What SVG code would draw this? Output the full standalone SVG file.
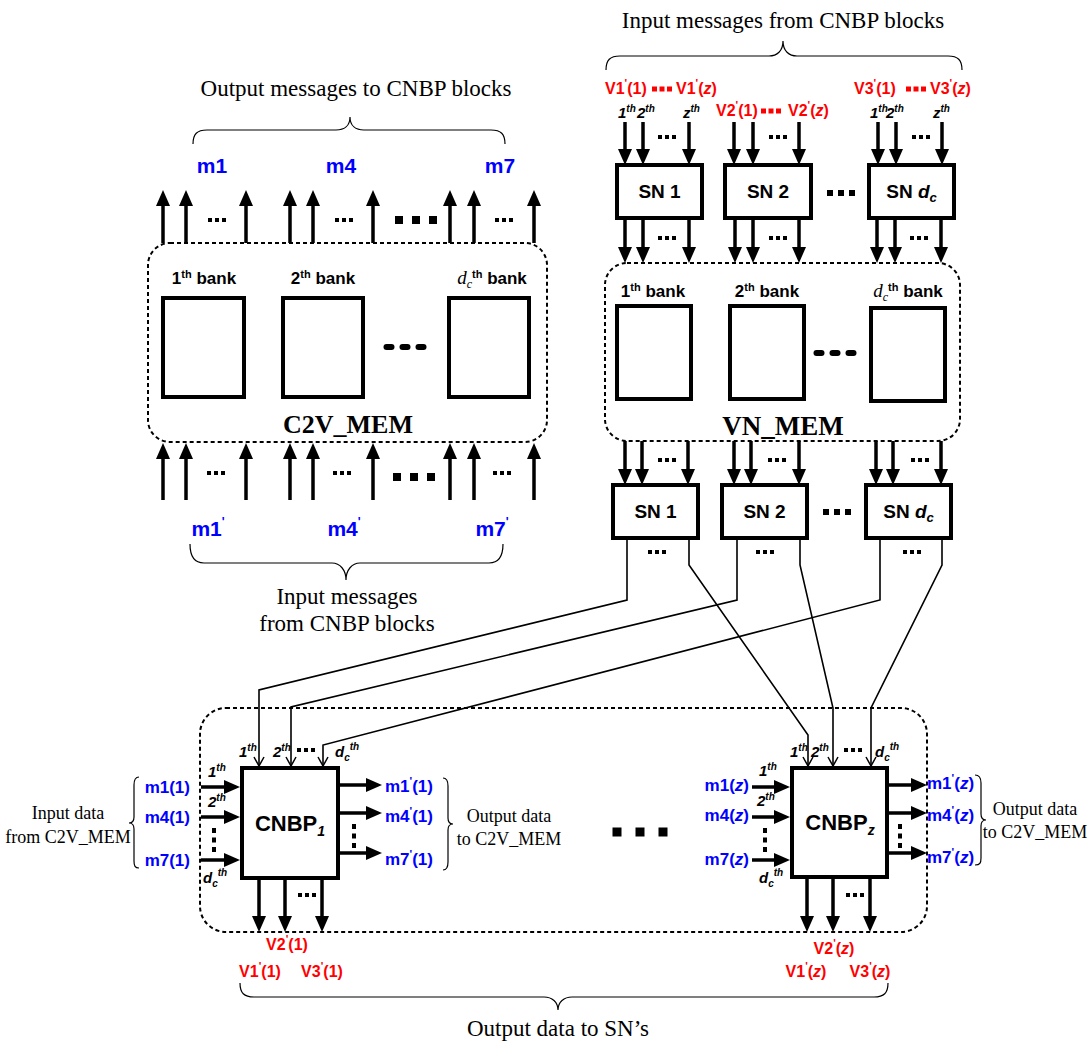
<svg xmlns="http://www.w3.org/2000/svg" width="1091" height="1045" viewBox="0 0 1091 1045">
<style>
.b{font-family:"Liberation Sans",Arial,sans-serif;font-weight:bold}
.it{font-style:italic}
.s{font-family:"Liberation Serif","Times New Roman",serif}
.blue{fill:#0000ff}
.red{fill:#ff0000}
.thick{stroke:#000;stroke-width:3.5;fill:none}
.thin{stroke:#000;stroke-width:1.6;fill:none}
.dash{stroke:#000;stroke-width:2;stroke-dasharray:4 3;fill:none}
.box{fill:#fff;stroke:#000;stroke-width:4}
.brace{stroke:#000;stroke-width:1.2;fill:none}
</style>
<defs>
  <marker id="ah" markerUnits="userSpaceOnUse" markerWidth="16" markerHeight="14" refX="8" refY="7" orient="auto" overflow="visible">
    <path d="M0,0 L16,7 L0,14 z" fill="#000"/>
  </marker>
  <marker id="av" markerUnits="userSpaceOnUse" markerWidth="9" markerHeight="10" refX="9" refY="5" orient="auto" overflow="visible">
    <path d="M0,0 L9,5 L0,10" fill="none" stroke="#000" stroke-width="1.5"/>
  </marker>
  <!-- small ellipsis squares -->
  <g id="d3"><rect x="-9" y="-2" width="4" height="4"/><rect x="-2" y="-2" width="4" height="4"/><rect x="5" y="-2" width="4" height="4"/></g>
  <!-- vertical ellipsis -->
  <g id="dv"><rect x="-2" y="-12" width="4" height="5"/><rect x="-2" y="-2.5" width="4" height="5"/><rect x="-2" y="7" width="4" height="5"/></g>
  <!-- large ellipsis squares -->
  <g id="bd"><rect x="-21" y="-4" width="8" height="8"/><rect x="-4" y="-4" width="8" height="8"/><rect x="13" y="-4" width="8" height="8"/></g>
  <!-- medium ellipsis squares -->
  <g id="sd"><rect x="-14" y="-3" width="6" height="6"/><rect x="-3" y="-3" width="6" height="6"/><rect x="8" y="-3" width="6" height="6"/></g>
  <!-- red ellipsis squares -->
  <g id="rd"><rect x="-10" y="-2.5" width="5" height="5"/><rect x="-2.5" y="-2.5" width="5" height="5"/><rect x="5" y="-2.5" width="5" height="5"/></g>
  <!-- extra large ellipsis squares -->
  <g id="xd"><rect x="-27.5" y="-4.5" width="9" height="9"/><rect x="-4.5" y="-4.5" width="9" height="9"/><rect x="18.5" y="-4.5" width="9" height="9"/></g>
  <!-- dash ellipsis between banks -->
  <g id="bars"><rect x="-21.5" y="-3" width="11" height="6" rx="3"/><rect x="-5.5" y="-3" width="11" height="6" rx="3"/><rect x="10.5" y="-3" width="11" height="6" rx="3"/></g>
</defs>

<rect width="1091" height="1045" fill="#fff"/>

<!-- ===== C2V memory ===== -->
<g id="c2v_mem">
  <rect class="dash" x="148" y="243" width="399" height="199" rx="22"/>
  <rect class="box" x="163" y="298" width="81" height="99"/>
  <rect class="box" x="283" y="298" width="80" height="99"/>
  <rect class="box" x="449" y="298" width="80" height="99"/>
  <text class="b" x="204" y="284" font-size="17" text-anchor="middle">1<tspan font-size="11" dy="-6">th</tspan><tspan dy="6"> bank</tspan></text>
  <text class="b" x="323" y="284" font-size="17" text-anchor="middle">2<tspan font-size="11" dy="-6">th</tspan><tspan dy="6"> bank</tspan></text>
  <text class="b" x="492" y="284" font-size="17" text-anchor="middle"><tspan class="s" font-style="italic" font-weight="normal" font-size="19">d</tspan><tspan class="s" font-style="italic" font-weight="normal" font-size="12" dy="4">c</tspan><tspan font-size="11" dy="-10">th</tspan><tspan dy="6"> bank</tspan></text>
  <use href="#bars" x="405" y="347"/>
  <text class="s" x="348" y="433" font-size="26" font-weight="bold" text-anchor="middle">C2V_MEM</text>
</g>

<!-- ===== VN memory ===== -->
<g id="vn_mem">
  <rect class="dash" x="605" y="263" width="355" height="178" rx="22"/>
  <rect class="box" x="617" y="306" width="74" height="93"/>
  <rect class="box" x="730" y="306" width="74" height="93"/>
  <rect class="box" x="871" y="308" width="74" height="93"/>
  <text class="b" x="653" y="297" font-size="17" text-anchor="middle">1<tspan font-size="11" dy="-6">th</tspan><tspan dy="6"> bank</tspan></text>
  <text class="b" x="767" y="297" font-size="17" text-anchor="middle">2<tspan font-size="11" dy="-6">th</tspan><tspan dy="6"> bank</tspan></text>
  <text class="b" x="908" y="297" font-size="17" text-anchor="middle"><tspan class="s" font-style="italic" font-weight="normal" font-size="19">d</tspan><tspan class="s" font-style="italic" font-weight="normal" font-size="12" dy="4">c</tspan><tspan font-size="11" dy="-10">th</tspan><tspan dy="6"> bank</tspan></text>
  <use href="#bars" x="835" y="353"/>
  <text class="s" x="783" y="435" font-size="27" font-weight="bold" text-anchor="middle">VN_MEM</text>
</g>

<!-- ===== shuffle networks, upper row ===== -->
<g id="sn_top_1">
  <rect class="box" x="617" y="165" width="85" height="53"/>
  <text class="b" x="659.5" y="198" font-size="19" text-anchor="middle">SN 1</text>
</g>
<g id="sn_top_2">
  <rect class="box" x="725" y="165" width="86" height="53"/>
  <text class="b" x="768" y="198" font-size="19" text-anchor="middle">SN 2</text>
</g>
<g id="sn_top_dc">
  <rect class="box" x="869" y="165" width="85" height="53"/>
  <text class="b" x="911.5" y="198" font-size="19" text-anchor="middle">SN <tspan class="it">d</tspan><tspan class="it" font-size="13" dy="4">c</tspan></text>
</g>
<use href="#sd" x="841" y="193"/>

<!-- ===== shuffle networks, lower row ===== -->
<g id="sn_bot_1">
  <rect class="box" x="613" y="485" width="85" height="53"/>
  <text class="b" x="655.5" y="518" font-size="19" text-anchor="middle">SN 1</text>
</g>
<g id="sn_bot_2">
  <rect class="box" x="722" y="485" width="85" height="53"/>
  <text class="b" x="764.5" y="518" font-size="19" text-anchor="middle">SN 2</text>
</g>
<g id="sn_bot_dc">
  <rect class="box" x="866" y="485" width="85" height="53"/>
  <text class="b" x="908.5" y="518" font-size="19" text-anchor="middle">SN <tspan class="it">d</tspan><tspan class="it" font-size="13" dy="4">c</tspan></text>
</g>
<use href="#sd" x="837" y="512"/>

<!-- ===== CNBP array container ===== -->
<g id="cnbp_array">
  <rect class="dash" x="200" y="708" width="727" height="224" rx="26"/>
  <use href="#xd" x="640" y="832"/>
</g>

<!-- ===== CNBP 1 ===== -->
<g id="cnbp_1">
  <rect class="box" x="242" y="768" width="96" height="110" stroke-width="4.5"/>
  <text class="b" x="290" y="831" font-size="22" text-anchor="middle">CNBP<tspan class="it" font-size="14" dy="5">1</tspan></text>
</g>

<!-- ===== CNBP z ===== -->
<g id="cnbp_z">
  <rect class="box" x="792" y="768" width="95" height="109" stroke-width="4.5"/>
  <text class="b" x="840" y="830" font-size="22" text-anchor="middle">CNBP<tspan class="it" font-size="14" dy="5">z</tspan></text>
</g>

<!-- ===== connectors ===== -->
<g id="connectors">
  <!-- C2V outputs (upward, top) -->
  <g class="thick" marker-end="url(#ah)">
    <line x1="163" y1="243" x2="163" y2="198"/><line x1="186" y1="243" x2="186" y2="198"/><line x1="246" y1="243" x2="246" y2="198"/>
    <line x1="290" y1="243" x2="290" y2="198"/><line x1="313" y1="243" x2="313" y2="198"/><line x1="373" y1="243" x2="373" y2="198"/>
    <line x1="450" y1="243" x2="450" y2="198"/><line x1="474" y1="243" x2="474" y2="198"/><line x1="534" y1="243" x2="534" y2="198"/>
  </g>
  <!-- C2V inputs (upward, bottom) -->
  <g class="thick" marker-end="url(#ah)">
    <line x1="163" y1="500" x2="163" y2="451"/><line x1="186" y1="500" x2="186" y2="451"/><line x1="246" y1="500" x2="246" y2="451"/>
    <line x1="290" y1="500" x2="290" y2="451"/><line x1="313" y1="500" x2="313" y2="451"/><line x1="373" y1="500" x2="373" y2="451"/>
    <line x1="450" y1="500" x2="450" y2="451"/><line x1="474" y1="500" x2="474" y2="451"/><line x1="534" y1="500" x2="534" y2="451"/>
  </g>
  <!-- inputs into upper SNs -->
  <g class="thick" marker-end="url(#ah)">
    <line x1="625" y1="122" x2="625" y2="157"/><line x1="643" y1="122" x2="643" y2="157"/><line x1="689" y1="122" x2="689" y2="157"/>
    <line x1="734" y1="122" x2="734" y2="157"/><line x1="753" y1="122" x2="753" y2="157"/><line x1="799" y1="122" x2="799" y2="157"/>
    <line x1="878" y1="122" x2="878" y2="157"/><line x1="896" y1="122" x2="896" y2="157"/><line x1="942" y1="122" x2="942" y2="157"/>
  </g>
  <!-- upper SNs into VN_MEM -->
  <g class="thick" marker-end="url(#ah)">
    <line x1="625" y1="220" x2="625" y2="255"/><line x1="643" y1="220" x2="643" y2="255"/><line x1="689" y1="220" x2="689" y2="255"/>
    <line x1="735" y1="220" x2="735" y2="255"/><line x1="753" y1="220" x2="753" y2="255"/><line x1="799" y1="220" x2="799" y2="255"/>
    <line x1="877" y1="220" x2="877" y2="255"/><line x1="895" y1="220" x2="895" y2="255"/><line x1="941" y1="220" x2="941" y2="255"/>
  </g>
  <!-- VN_MEM into lower SNs -->
  <g class="thick" marker-end="url(#ah)">
    <line x1="625" y1="441" x2="625" y2="477"/><line x1="642" y1="441" x2="642" y2="477"/><line x1="688" y1="441" x2="688" y2="477"/>
    <line x1="734" y1="441" x2="734" y2="477"/><line x1="751" y1="441" x2="751" y2="477"/><line x1="799" y1="441" x2="799" y2="477"/>
    <line x1="876" y1="441" x2="876" y2="477"/><line x1="893" y1="441" x2="893" y2="477"/><line x1="941" y1="441" x2="941" y2="477"/>
  </g>
  <!-- lower SNs routed to CNBPs -->
  <g class="thin" marker-end="url(#av)">
    <path d="M627,538 V600 L259,690 V766"/>
    <path d="M737,538 V600 L291,707 V766"/>
    <path d="M880,538 V600 L323,745 V766"/>
    <path d="M689,538 V565 L808,735 V766"/>
    <path d="M800,538 V565 L833,708 V766"/>
    <path d="M942,538 V565 L871,708 V766"/>
  </g>
  <!-- CNBP 1 ports -->
  <g class="thick" marker-end="url(#ah)">
    <line x1="201" y1="787" x2="232" y2="787"/><line x1="201" y1="817" x2="232" y2="817"/><line x1="201" y1="860" x2="232" y2="860"/>
    <line x1="340" y1="785" x2="374" y2="785"/><line x1="340" y1="813" x2="374" y2="813"/><line x1="340" y1="853" x2="374" y2="853"/>
    <line x1="259" y1="880" x2="259" y2="924"/><line x1="285" y1="880" x2="285" y2="924"/><line x1="322" y1="880" x2="322" y2="924"/>
  </g>
  <!-- CNBP z ports -->
  <g class="thick" marker-end="url(#ah)">
    <line x1="752" y1="787" x2="782" y2="787"/><line x1="752" y1="817" x2="782" y2="817"/><line x1="752" y1="860" x2="782" y2="860"/>
    <line x1="889" y1="785" x2="919" y2="785"/><line x1="889" y1="813" x2="919" y2="813"/><line x1="889" y1="853" x2="919" y2="853"/>
    <line x1="807" y1="879" x2="807" y2="924"/><line x1="833" y1="879" x2="833" y2="924"/><line x1="870" y1="879" x2="870" y2="924"/>
  </g>
</g>

<!-- ===== ellipses inside arrow groups ===== -->
<g id="ellipses">
  <use href="#d3" x="217" y="220"/><use href="#d3" x="344" y="220"/><use href="#d3" x="504" y="220"/>
  <use href="#bd" x="416" y="220"/>
  <use href="#d3" x="216" y="473"/><use href="#d3" x="342" y="473"/><use href="#d3" x="502" y="473"/>
  <use href="#bd" x="414" y="477"/>
  <use href="#d3" x="667" y="137"/><use href="#d3" x="778" y="137"/><use href="#d3" x="921" y="137"/>
  <use href="#d3" x="667" y="238"/><use href="#d3" x="778" y="238"/><use href="#d3" x="919" y="238"/>
  <use href="#d3" x="667" y="460"/><use href="#d3" x="777" y="460"/><use href="#d3" x="920" y="460"/>
  <use href="#d3" x="657" y="552"/><use href="#d3" x="765" y="552"/><use href="#d3" x="912" y="552"/>
  <use href="#d3" x="306" y="750"/><use href="#d3" x="853" y="750"/>
  <use href="#d3" x="307" y="895"/><use href="#d3" x="855" y="895"/>
  <use href="#dv" x="214" y="840"/><use href="#dv" x="354" y="836"/>
  <use href="#dv" x="765" y="840"/><use href="#dv" x="900" y="836"/>
</g>

<!-- ===== message labels, C2V side ===== -->
<g id="c2v_labels">
  <text class="s" x="356" y="96" font-size="23" text-anchor="middle">Output messages to CNBP blocks</text>
  <path class="brace" d="M193,144 C193,134 197,130 207,130 L336,130 C344,130 350,126 350,117 C350,126 356,130 364,130 L491,130 C501,130 505,134 505,144"/>
  <g class="b blue" font-size="21" text-anchor="middle">
    <text x="212" y="173">m1</text>
    <text x="341" y="173">m4</text>
    <text x="500" y="173">m7</text>
    <text x="208" y="536">m1<tspan font-size="12" dy="-10">'</tspan></text>
    <text x="344" y="536">m4<tspan font-size="12" dy="-10">'</tspan></text>
    <text x="492" y="536">m7<tspan font-size="12" dy="-10">'</tspan></text>
  </g>
  <path class="brace" d="M190,544 C190,556 194,563 204,563 L332,563 C340,563 346,570 346,580 C346,570 352,563 360,563 L489,563 C499,563 503,556 503,544"/>
  <text class="s" x="347" y="604" font-size="23" text-anchor="middle">Input messages</text>
  <text class="s" x="347" y="631" font-size="23" text-anchor="middle">from CNBP blocks</text>
</g>

<!-- ===== message labels, VN side ===== -->
<g id="vn_labels">
  <text class="s" x="783" y="28" font-size="23" text-anchor="middle">Input messages from CNBP blocks</text>
  <path class="brace" d="M606,70 C606,60 610,56 620,56 L769,56 C777,56 783,51 783,41 C783,51 789,56 797,56 L948,56 C958,56 962,60 962,70"/>
  <g class="b red" font-size="16">
    <text x="605" y="94">V1<tspan font-size="11" dy="-7">'</tspan><tspan dy="7">(1)</tspan></text>
    <text x="676" y="94">V1<tspan font-size="11" dy="-7">'</tspan><tspan dy="7">(<tspan class="it">z</tspan>)</tspan></text>
    <text x="716" y="116">V2<tspan font-size="11" dy="-7">'</tspan><tspan dy="7">(1)</tspan></text>
    <text x="788" y="116">V2<tspan font-size="11" dy="-7">'</tspan><tspan dy="7">(<tspan class="it">z</tspan>)</tspan></text>
    <text x="854" y="94">V3<tspan font-size="11" dy="-7">'</tspan><tspan dy="7">(1)</tspan></text>
    <text x="930" y="94">V3<tspan font-size="11" dy="-7">'</tspan><tspan dy="7">(<tspan class="it">z</tspan>)</tspan></text>
  </g>
  <g fill="#ff0000">
    <use href="#rd" x="662" y="89"/>
    <use href="#rd" x="771" y="111"/>
    <use href="#rd" x="916" y="89"/>
  </g>
  <g class="b it" font-size="15">
    <text x="618" y="118">1<tspan font-size="10" dy="-6">th</tspan></text>
    <text x="637" y="118">2<tspan font-size="10" dy="-6">th</tspan></text>
    <text x="683" y="118">z<tspan font-size="10" dy="-6">th</tspan></text>
    <text x="870" y="118">1<tspan font-size="10" dy="-6">th</tspan></text>
    <text x="886" y="118">2<tspan font-size="10" dy="-6">th</tspan></text>
    <text x="933" y="118">z<tspan font-size="10" dy="-6">th</tspan></text>
  </g>
</g>

<!-- ===== CNBP port labels ===== -->
<g id="cnbp_labels">
  <g class="b it" font-size="15">
    <text x="239" y="757">1<tspan font-size="10" dy="-6">th</tspan></text>
    <text x="273" y="757">2<tspan font-size="10" dy="-6">th</tspan></text>
    <text x="335" y="757">d<tspan font-size="10" dy="4">c</tspan><tspan font-size="10" dy="-11">th</tspan></text>
    <text x="208" y="777">1<tspan font-size="10" dy="-6">th</tspan></text>
    <text x="208" y="807">2<tspan font-size="10" dy="-6">th</tspan></text>
    <text x="203" y="883">d<tspan font-size="10" dy="4">c</tspan><tspan font-size="10" dy="-11">th</tspan></text>
    <text x="790" y="757">1<tspan font-size="10" dy="-6">th</tspan></text>
    <text x="811" y="757">2<tspan font-size="10" dy="-6">th</tspan></text>
    <text x="875" y="757">d<tspan font-size="10" dy="4">c</tspan><tspan font-size="10" dy="-11">th</tspan></text>
    <text x="759" y="776">1<tspan font-size="10" dy="-6">th</tspan></text>
    <text x="757" y="806">2<tspan font-size="10" dy="-6">th</tspan></text>
    <text x="759" y="883">d<tspan font-size="10" dy="4">c</tspan><tspan font-size="10" dy="-11">th</tspan></text>
  </g>
  <g class="b blue" font-size="17">
    <text x="190" y="793" text-anchor="end">m1(1)</text>
    <text x="190" y="823" text-anchor="end">m4(1)</text>
    <text x="190" y="866" text-anchor="end">m7(1)</text>
    <text x="385" y="792">m1<tspan font-size="11" dy="-7">'</tspan><tspan dy="7">(1)</tspan></text>
    <text x="385" y="822">m4<tspan font-size="11" dy="-7">'</tspan><tspan dy="7">(1)</tspan></text>
    <text x="385" y="865">m7<tspan font-size="11" dy="-7">'</tspan><tspan dy="7">(1)</tspan></text>
    <text x="749" y="791" text-anchor="end">m1(<tspan class="it">z</tspan>)</text>
    <text x="749" y="821" text-anchor="end">m4(<tspan class="it">z</tspan>)</text>
    <text x="749" y="865" text-anchor="end">m7(<tspan class="it">z</tspan>)</text>
    <text x="927" y="789">m1<tspan font-size="11" dy="-7">'</tspan><tspan dy="7">(<tspan class="it">z</tspan>)</tspan></text>
    <text x="927" y="821">m4<tspan font-size="11" dy="-7">'</tspan><tspan dy="7">(<tspan class="it">z</tspan>)</tspan></text>
    <text x="927" y="863">m7<tspan font-size="11" dy="-7">'</tspan><tspan dy="7">(<tspan class="it">z</tspan>)</tspan></text>
  </g>
  <path class="brace" d="M139,777 C135,777 134,780 134,785 L134,817 C134,821 132,823 129,823 C132,823 134,825 134,829 L134,861 C134,866 135,868 139,868"/>
  <path class="brace" d="M443,778 C447,778 448,781 448,786 L448,818 C448,822 450,824 453,824 C450,824 448,826 448,830 L448,862 C448,867 447,870 443,870"/>
  <path class="brace" d="M975,775 C979,775 981,778 981,783 L981,814 C981,818 983,820 986,820 C983,820 981,822 981,826 L981,858 C981,863 980,865 975,865"/>
  <g class="s" font-size="18" text-anchor="middle">
    <text x="68" y="819">Input data</text>
    <text x="68" y="843">from C2V_MEM</text>
    <text x="509" y="822">Output data</text>
    <text x="509" y="845">to C2V_MEM</text>
    <text x="1035" y="815">Output data</text>
    <text x="1035" y="838">to C2V_MEM</text>
  </g>
  <g class="b red" font-size="16" text-anchor="middle">
    <text x="287" y="950">V2<tspan font-size="11" dy="-7">'</tspan><tspan dy="7">(1)</tspan></text>
    <text x="260" y="977">V1<tspan font-size="11" dy="-7">'</tspan><tspan dy="7">(1)</tspan></text>
    <text x="322" y="977">V3<tspan font-size="11" dy="-7">'</tspan><tspan dy="7">(1)</tspan></text>
    <text x="834" y="954">V2<tspan font-size="11" dy="-7">'</tspan><tspan dy="7">(<tspan class="it">z</tspan>)</tspan></text>
    <text x="806" y="977">V1<tspan font-size="11" dy="-7">'</tspan><tspan dy="7">(<tspan class="it">z</tspan>)</tspan></text>
    <text x="870" y="977">V3<tspan font-size="11" dy="-7">'</tspan><tspan dy="7">(<tspan class="it">z</tspan>)</tspan></text>
  </g>
  <path class="brace" d="M240,983 C240,993 244,997 254,997 L544,997 C552,997 558,1002 558,1010 C558,1002 564,997 572,997 L874,997 C884,997 888,993 888,983"/>
  <text class="s" x="558" y="1036" font-size="23" text-anchor="middle">Output data to SN’s</text>
</g>
</svg>
